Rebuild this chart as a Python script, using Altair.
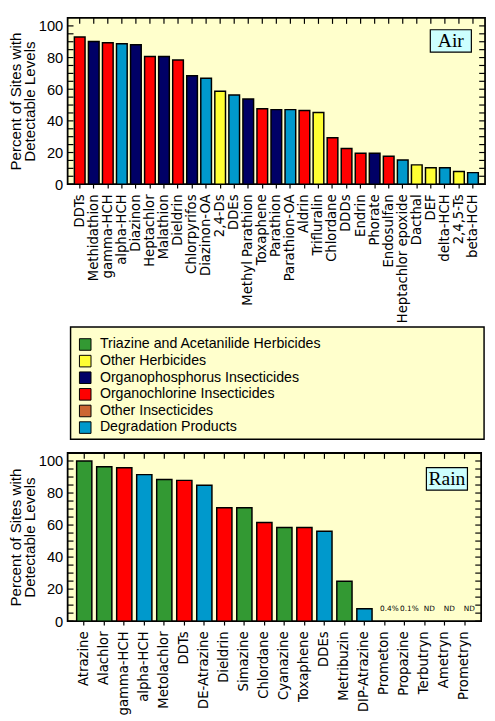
import altair as alt
import pandas as pd

FONT = "Liberation Sans"
LABEL_FONT = "DejaVu Sans"

# ---------------- data ----------------
air_names = ["DDTs", "Methidathion", "gamma-HCH", "alpha-HCH", "Diazinon", "Heptachlor",
             "Malathion", "Dieldrin", "Chlorpyrifos", "Diazinon-OA", "2,4-Ds", "DDEs",
             "Methyl Parathion", "Toxaphene", "Parathion", "Parathion-OA", "Aldrin",
             "Trifluralin", "Chlordane", "DDDs", "Endrin", "Phorate", "Endosulfan",
             "Heptachlor epoxide", "Dacthal", "DEF", "delta-HCH", "2,4,5-Ts", "beta-HCH"]
air_values = [93.0, 90.1, 89.3, 88.7, 88.1, 80.7, 80.7, 78.5, 68.5, 66.9, 58.7, 56.3,
              53.8, 47.7, 47.1, 47.1, 46.5, 45.3, 29.4, 22.6, 19.6, 19.6, 17.7,
              15.3, 12.2, 10.4, 10.4, 8.0, 7.3]
air_groups = ["OC", "OP", "OC", "DP", "OP", "OC", "OP", "OC", "OP", "DP", "OH", "DP",
              "OP", "OC", "OP", "DP", "OC", "OH", "OC", "OC", "OC", "OP", "OC",
              "DP", "OH", "OH", "DP", "OH", "DP"]

rain_names = ["Atrazine", "Alachlor", "gamma-HCH", "alpha-HCH", "Metolachlor", "DDTs",
              "DE-Atrazine", "Dieldrin", "Simazine", "Chlordane", "Cyanazine", "Toxaphene",
              "DDEs", "Metribuzin", "DIP-Atrazine", "Prometon", "Propazine", "Terbutryn",
              "Ametryn", "Prometryn"]
rain_values = [100.0, 96.4, 95.8, 91.5, 88.5, 87.9, 84.8, 70.8, 70.8, 61.6, 58.5, 58.5,
               56.1, 24.9, 7.8, 0.4, 0.1, None, None, None]
rain_groups = ["TA", "TA", "OC", "DP", "TA", "OC", "DP", "OC", "TA", "OC", "TA", "OC",
               "DP", "TA", "DP", "TA", "TA", "TA", "TA", "TA"]
rain_note_names = ["Prometon", "Propazine", "Terbutryn", "Ametryn", "Prometryn"]
rain_notes = ["0.4%", "0.1%", "ND", "ND", "ND"]

group_codes = ["TA", "OH", "OP", "OC", "OI", "DP"]
group_labels = ["Triazine and Acetanilide Herbicides", "Other Herbicides",
                "Organophosphorus Insecticides", "Organochlorine Insecticides",
                "Other Insecticides", "Degradation Products"]
group_colors = ["#339933", "#ffff33", "#000066", "#ff0000", "#cc6633", "#0099cc"]

y_label_values = [0, 20, 40, 60, 80, 100]
y_tick_values = [0, 5, 10, 15, 20, 25, 30, 35, 40, 45, 50, 55, 60, 65, 70, 75, 80, 85, 90, 95, 100]

color_scale = alt.Scale(domain=group_codes, range=group_colors)
BG = "#ffffcc"
Y_TITLE = ["Percent of Sites with", "Detectable Levels"]


def make_panel(names, values, groups, width, height, ymax, pad_outer, tag, box_y,
               note_names=None, notes=None):
    df = pd.DataFrame({"name": names, "value": values, "group": groups})
    xscale = alt.Scale(domain=names, paddingInner=0.24, paddingOuter=pad_outer)
    yscale = alt.Scale(domain=[0, ymax], nice=False, zero=True)

    x_axis = alt.Axis(labelAngle=270, labelFont=LABEL_FONT, labelFontSize=13.5,
                      labelColor="black", labelPadding=6, tickSize=4, tickColor="black",
                      tickWidth=1.2, domain=False, grid=False, labelLimit=400)
    y_axis = alt.Axis(values=y_label_values, ticks=False, domain=False, grid=False,
                      labelFont=FONT, labelFontSize=15, labelPadding=5, labelColor="black",
                      titleFont=FONT, titleFontSize=15.5, titleFontWeight="normal",
                      titleLineHeight=14, titlePadding=1, titleColor="black")
    x_enc = alt.X("name:N", scale=xscale, sort=names, title=None, axis=x_axis)
    y_enc = alt.Y("value:Q", scale=yscale, title=Y_TITLE, axis=y_axis)

    bars = alt.Chart(df).transform_filter("datum.value >= 1").mark_bar(
        stroke="black", strokeWidth=1.5
    ).encode(
        x=x_enc, y=y_enc,
        color=alt.Color("group:N", scale=color_scale, legend=None),
    )

    tick_df = pd.DataFrame({"value": y_tick_values})
    left_ticks = alt.Chart(tick_df).mark_rule(color="black", strokeWidth=1.2).encode(
        y=y_enc, x=alt.value(0), x2=alt.value(6))
    right_ticks = alt.Chart(tick_df).mark_rule(color="black", strokeWidth=1.2).encode(
        y=y_enc, x=alt.value(width - 6), x2=alt.value(width))
    top_ticks = alt.Chart(df).mark_rule(color="black", strokeWidth=1.2).encode(
        x=x_enc, y=alt.value(0), y2=alt.value(6))

    tag_df = pd.DataFrame({"tag": [tag]})
    box = alt.Chart(tag_df).mark_rect(fill="#ccffff", stroke="black", strokeWidth=1.2).encode(
        x=alt.value(width - 56), x2=alt.value(width - 14),
        y=alt.value(box_y), y2=alt.value(box_y + 23))
    box_text = alt.Chart(tag_df).mark_text(
        font="Liberation Serif", fontSize=20, color="black", baseline="middle", align="center"
    ).encode(x=alt.value(width - 35), y=alt.value(box_y + 12), text="tag:N")

    layers = [bars, left_ticks, right_ticks, top_ticks, box, box_text]
    if notes is not None:
        note_df = pd.DataFrame({"name": note_names, "note": notes})
        note_layer = alt.Chart(note_df).mark_text(
            font=LABEL_FONT, fontSize=7.5, color="black", baseline="middle", dx=5
        ).encode(x=x_enc, y=alt.value(height - 12), text="note:N")
        layers.append(note_layer)

    return alt.layer(*layers).properties(
        width=width, height=height,
        view=alt.ViewBackground(fill=BG, stroke="black", strokeWidth=1.8),
    )


top = make_panel(air_names, air_values, air_groups, 427, 170, 105, 0.48, "Air", 12)
bottom = make_panel(rain_names, rain_values, rain_groups, 423, 172, 105, 0.45, "Rain", 15,
                    rain_note_names, rain_notes)

# legend panel (origin aligned with the plot areas above/below)
leg_df = pd.DataFrame({"group": group_codes, "label": group_labels})
leg_y = alt.Y("group:N", sort=group_codes,
              scale=alt.Scale(type="point", domain=group_codes, range=[20, 105], padding=0),
              axis=None)
leg_box = alt.Chart(pd.DataFrame({"k": [0]})).mark_rect(
    fill=BG, stroke="black", strokeWidth=1.5
).encode(x=alt.value(3), x2=alt.value(426), y=alt.value(2), y2=alt.value(117))
leg_squares = alt.Chart(leg_df).mark_square(size=140, stroke="black", strokeWidth=1,
                                            opacity=1).encode(
    x=alt.value(18), y=leg_y,
    color=alt.Color("group:N", scale=color_scale, legend=None))
leg_text = alt.Chart(leg_df).mark_text(
    align="left", baseline="middle", font=FONT, fontSize=14.5, color="black"
).encode(x=alt.value(33), y=leg_y, text="label:N")
legend_panel = alt.layer(leg_box, leg_squares, leg_text).properties(
    width=427, height=128,
    view=alt.ViewBackground(stroke="transparent", fill="transparent"),
)

chart = alt.vconcat(top, legend_panel, bottom, spacing=0).properties(
    padding=0, background="white"
).configure_view(stroke="transparent")

chart.save("out.html", embed_options={"renderer": "svg", "actions": False})
